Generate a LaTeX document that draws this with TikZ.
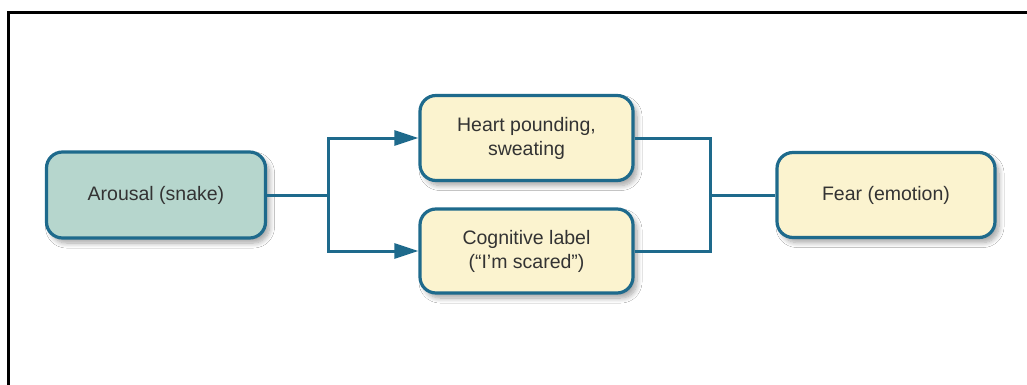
\documentclass[tikz,border=0pt]{standalone}
\usepackage{fontspec}
\setmainfont{Liberation Sans}
\usetikzlibrary{arrows.meta,shadows.blur}
\definecolor{edgeblue}{HTML}{1E6A8C}
\definecolor{tealfill}{HTML}{B6D6CD}
\definecolor{creamfill}{HTML}{FBF3CF}
\definecolor{txt}{HTML}{333333}
\tikzset{
  box/.style={draw=edgeblue, line width=3.2pt, rounded corners=16pt,
    align=center, text=txt, font=\fontsize{19.5}{24}\selectfont,
    inner sep=0pt,
    blur shadow={shadow xshift=4pt, shadow yshift=-5pt, shadow blur steps=8,
                 shadow opacity=35, shadow blur radius=5pt}},
  link/.style={draw=edgeblue, line width=3pt},
  arr/.style={link, -{Triangle[length=24pt,width=15pt]}}
}
\begin{document}
\begin{tikzpicture}[x=1pt,y=-1pt]
  \useasboundingbox (0,0) rectangle (1027,385);
  \fill[white] (0,0) rectangle (1027,385);
  % page frame (top and left rules)
  \draw[line width=3pt] (8,385) -- (8,13) -- (1027,13);

  \node[box, fill=tealfill, minimum width=219pt, minimum height=86pt]
    (arousal) at (156,195) {Arousal (snake)};
  \node[box, fill=creamfill, minimum width=213pt, minimum height=85pt]
    (heart) at (526.5,138) {Heart pounding,\\sweating};
  \node[box, fill=creamfill, minimum width=213pt, minimum height=84pt]
    (cog) at (526.5,251) {Cognitive label\\(“I’m scared”)};
  \node[box, fill=creamfill, minimum width=218pt, minimum height=85pt]
    (fear) at (886,195) {Fear (emotion)};

  \coordinate (split) at (328,195);
  \coordinate (join) at (710,195);

  \draw[link] (arousal.east) -- (split);
  \draw[arr] (split) |- (heart.west);
  \draw[arr] (split) |- (cog.west);
  \draw[link] (heart.east) -| (join);
  \draw[link] (cog.east) -| (join);
  \draw[link] (join) -- (fear.west);
\end{tikzpicture}
\end{document}
